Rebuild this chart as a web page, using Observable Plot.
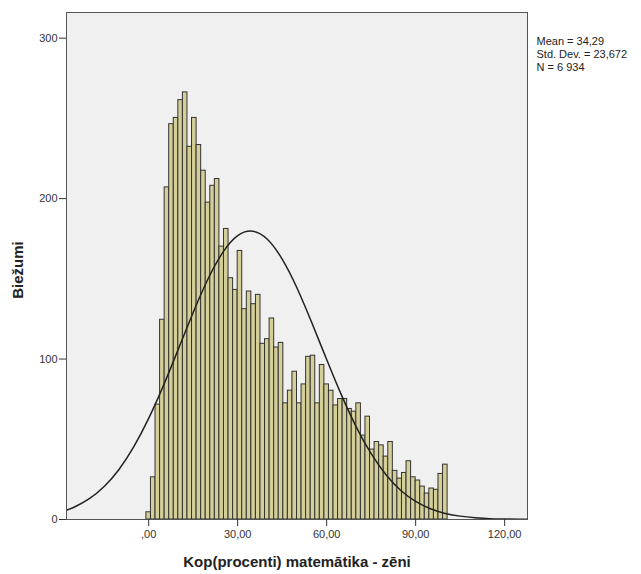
<!DOCTYPE html>
<html>
<head>
<meta charset="utf-8">
<script src="https://cdn.jsdelivr.net/npm/d3@7"></script>
<script src="https://cdn.jsdelivr.net/npm/@observablehq/plot@0.6"></script>
<style>
  html, body { margin: 0; padding: 0; background: #ffffff; }
  #chart svg { display: block; }
</style>
</head>
<body>
<div id="chart"></div>
<script>
// Histogram counts per bin (bins of width 100/65 centred on 0, 1.54, ..., 100)
const counts = [
  4.5, 26.3, 71.6, 124.5, 207, 246.4, 250.3, 261.4, 266.2, 232.3,
  250.3, 233.4, 217.4, 197.5, 208, 212.2, 170.1, 181.1, 150.4, 143.1,
  167.4, 131.1, 142.1, 134.2, 140, 109.5, 112.4, 125.3, 107.2, 110.1,
  72.4, 80.3, 92.1, 72.4, 84.2, 101.4, 102.1, 72.4, 96.3, 84.2,
  80.3, 71.1, 75.1, 75.1, 68.9, 67.2, 72.4, 52.3, 64.1, 43.6,
  48.3, 46.2, 39.2, 48.3, 30.3, 25.5, 29, 36.3, 26.3, 24.3,
  20.5, 16.2, 19.3, 18.5, 28.4, 34.2
];
const binWidth = 100 / 65;
const binStart = -binWidth / 2;

// Normal curve
const curveX = [-27.7, -25, -20, -15, -10, -5, 0, 5, 10, 15, 20, 25, 30, 35, 40, 45, 50, 55, 60, 65, 70, 75, 80, 85, 90, 95, 100, 105, 110, 115, 120, 125, 127.7];
const curveY = [5.8, 7.8, 13.0, 20.6, 31.2, 45.4, 63.0, 83.6, 106.2, 129.0, 149.9, 166.5, 176.9, 179.7, 174.7, 162.3, 144.3, 122.6, 99.7, 77.5, 57.6, 41.0, 27.9, 18.1, 11.3, 6.7, 3.8, 2.1, 1.1, 0.5, 0.3, 0.1, 0.1];

const xTicks = [0, 30, 60, 90, 120];
const xTickLabels = [",00", "30,00", "60,00", "90,00", "120,00"];
const yTicks = [0, 100, 200, 300];
const yTickLabels = ["0", "100", "200", "300"];

const xTitle = "Kop(procenti) matemātika - zēni";
const yTitle = "Biežumi";
const statsLines = ["Mean = 34,29", "Std. Dev. = 23,672", "N = 6 934"];

const bars = counts.map((c, i) => ({x1: binStart + i * binWidth, x2: binStart + (i + 1) * binWidth, y: c}));
const curve = curveX.map((x, i) => ({x, y: curveY[i]}));

const chart = Plot.plot({
  width: 641,
  height: 574,
  marginLeft: 66,
  marginRight: 114,
  marginTop: 12,
  marginBottom: 55,
  style: {fontFamily: "'Liberation Sans', Arial, sans-serif", fontSize: "11px", background: "#ffffff", color: "#222"},
  x: {domain: [-27.7, 127.7]},
  y: {domain: [0, 316]},
  marks: [
    Plot.frame({fill: "#f0f0f0", stroke: "none"}),
    Plot.rectY(bars, {x1: "x1", x2: "x2", y: "y", fill: "#d4cf98", stroke: "#333", strokeWidth: 1, inset: 0}),
    Plot.line(curve, {x: "x", y: "y", curve: "natural", stroke: "#222", strokeWidth: 1.5, clip: true}),
    Plot.frame({stroke: "#555", strokeWidth: 1}),
    Plot.axisX({ticks: xTicks, tickFormat: (d) => xTickLabels[xTicks.indexOf(d)], tickSize: 7, tickPadding: 4, label: null, fill: "#333", stroke: "#333"}),
    Plot.axisY({ticks: yTicks, tickFormat: (d) => yTickLabels[yTicks.indexOf(d)], tickSize: 7, tickPadding: 2, label: null, fill: "#333", stroke: "#333"}),
    Plot.text([xTitle], {frameAnchor: "bottom", dy: 47, fontWeight: "bold", fontSize: 15, fill: "#222"}),
    Plot.text([yTitle], {frameAnchor: "left", dx: -48, dy: 4, rotate: -90, textAnchor: "middle", fontWeight: "bold", fontSize: 15, fill: "#222"}),
    Plot.text([statsLines.join("\n")], {frameAnchor: "top-right", dx: 9, dy: 24, textAnchor: "start", lineAnchor: "top", lineHeight: 1.15, fontSize: 11, fill: "#222"})
  ]
});
document.getElementById("chart").appendChild(chart);
</script>
</body>
</html>
